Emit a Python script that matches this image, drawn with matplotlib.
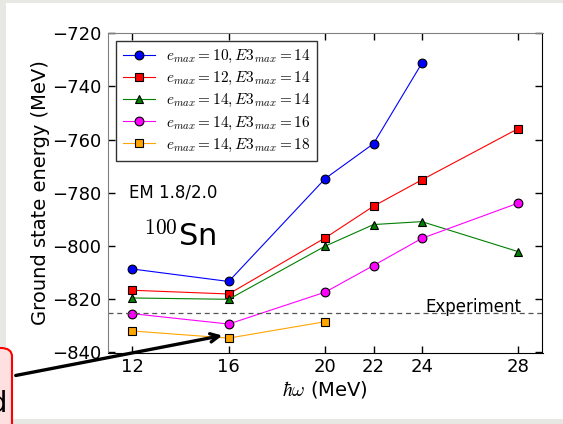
import matplotlib
matplotlib.use("Agg")
import matplotlib.pyplot as plt
from matplotlib.patches import Rectangle, FancyBboxPatch, FancyArrowPatch

plt.rcParams['mathtext.fontset'] = 'cm'
plt.rcParams['font.family'] = ['DejaVu Sans']

# hbar*omega values (MeV)
hw_full = [12, 16, 20, 22, 24, 28]
hw_10 = [12, 16, 20, 22, 24]
hw_18 = [12, 16, 20]

# Ground state energies of 100Sn (MeV)
e10_E14 = [-808.6, -813.3, -774.6, -761.5, -731.3]
e12_E14 = [-816.6, -818.0, -796.9, -785.0, -775.1, -755.8]
e14_E14 = [-819.5, -820.0, -800.0, -791.9, -790.8, -802.1]
e14_E16 = [-825.4, -829.3, -817.3, -807.3, -797.1, -783.8]
e14_E18 = [-831.9, -834.6, -828.4]
experiment = -825.3

labels = [r'$e_{max}=10, E3_{max}=14$',
          r'$e_{max}=12, E3_{max}=14$',
          r'$e_{max}=14, E3_{max}=14$',
          r'$e_{max}=14, E3_{max}=16$',
          r'$e_{max}=14, E3_{max}=18$']
xticks = [12, 16, 20, 22, 24, 28]
yticks = [-840, -820, -800, -780, -760, -740, -720]

W, H = 563, 424
fig = plt.figure(figsize=(W / 100, H / 100), dpi=100)
fig.patch.set_facecolor('#e7e7e3')

def fx(px):
    return px / W

def fy(py):
    return 1 - py / H

# white slide area
fig.patches.append(Rectangle((fx(6), fy(419)), fx(W) - fx(6) + 0.01, fy(3) - fy(419),
                             transform=fig.transFigure, facecolor='white',
                             edgecolor='none', zorder=-5))

ax = fig.add_axes([fx(108), fy(352.5), fx(542.5) - fx(108), fy(33.3) - fy(352.5)])

series = [
    (hw_10, e10_E14, 'blue', 'o'),
    (hw_full, e12_E14, 'red', 's'),
    (hw_full, e14_E14, 'green', '^'),
    (hw_full, e14_E16, 'magenta', 'o'),
    (hw_18, e14_E18, 'orange', 's'),
]
for (x, y, c, m), lab in zip(series, labels):
    ax.plot(x, y, color=c, marker=m, markersize=6.3, markeredgecolor='black',
            markeredgewidth=0.8, linewidth=0.8, label=lab)

ax.axhline(experiment, color='#555555', linestyle=(0, (4, 3)), linewidth=0.9)
ax.text(28.12, experiment + 0.7, 'Experiment', fontsize=12, ha='right', va='baseline')

ax.text(11.86, -780, 'EM 1.8/2.0', fontsize=12, ha='left', va='center')
ax.text(12.44, -800, r'$^{100}$Sn', fontsize=22, ha='left', va='baseline')

ax.set_xlim(11, 29)
ax.set_ylim(-840, -720)
ax.set_xticks(xticks)
ax.set_yticks(yticks)
ax.set_yticklabels([f'\u2212{abs(v)}' for v in yticks])
ax.tick_params(direction='in', length=5, width=1, labelsize=13, top=True, right=True)
ax.tick_params(axis='x', pad=4)
ax.tick_params(axis='y', pad=5)
ax.set_xlabel(r'$\hbar\omega$ (MeV)', fontsize=14, labelpad=2)
ax.set_ylabel('Ground state energy (MeV)', fontsize=14, labelpad=1)

for s in ['left', 'top']:
    ax.spines[s].set_color('#808080')
for s in ['right', 'bottom']:
    ax.spines[s].set_color('black')

leg = ax.legend(loc='upper left', fontsize=11, frameon=True, fancybox=False,
                handlelength=2.1, handletextpad=0.75, labelspacing=0.33,
                borderaxespad=0.5, borderpad=0.45, numpoints=1)
leg.get_frame().set_edgecolor('black')
leg.get_frame().set_linewidth(1.0)

# side note box and arrow
box = FancyBboxPatch((fx(-40), fy(440)), fx(52), fy(348) - fy(440),
                     boxstyle='round,pad=0,rounding_size=0.02',
                     transform=fig.transFigure, facecolor='#ffe0e0',
                     edgecolor='red', linewidth=1.5, zorder=3)
fig.patches.append(box)
fig.text(fx(6.5), fy(412), 'd', fontsize=21, ha='right', va='baseline', zorder=4)
arrow = FancyArrowPatch((fx(13), fy(376)), (fx(225), fy(335)),
                        transform=fig.transFigure, arrowstyle='->,head_length=6,head_width=3',
                        color='black', linewidth=2.4, zorder=5)
fig.patches.append(arrow)

fig.savefig('out.png', dpi=100, facecolor=fig.get_facecolor())
